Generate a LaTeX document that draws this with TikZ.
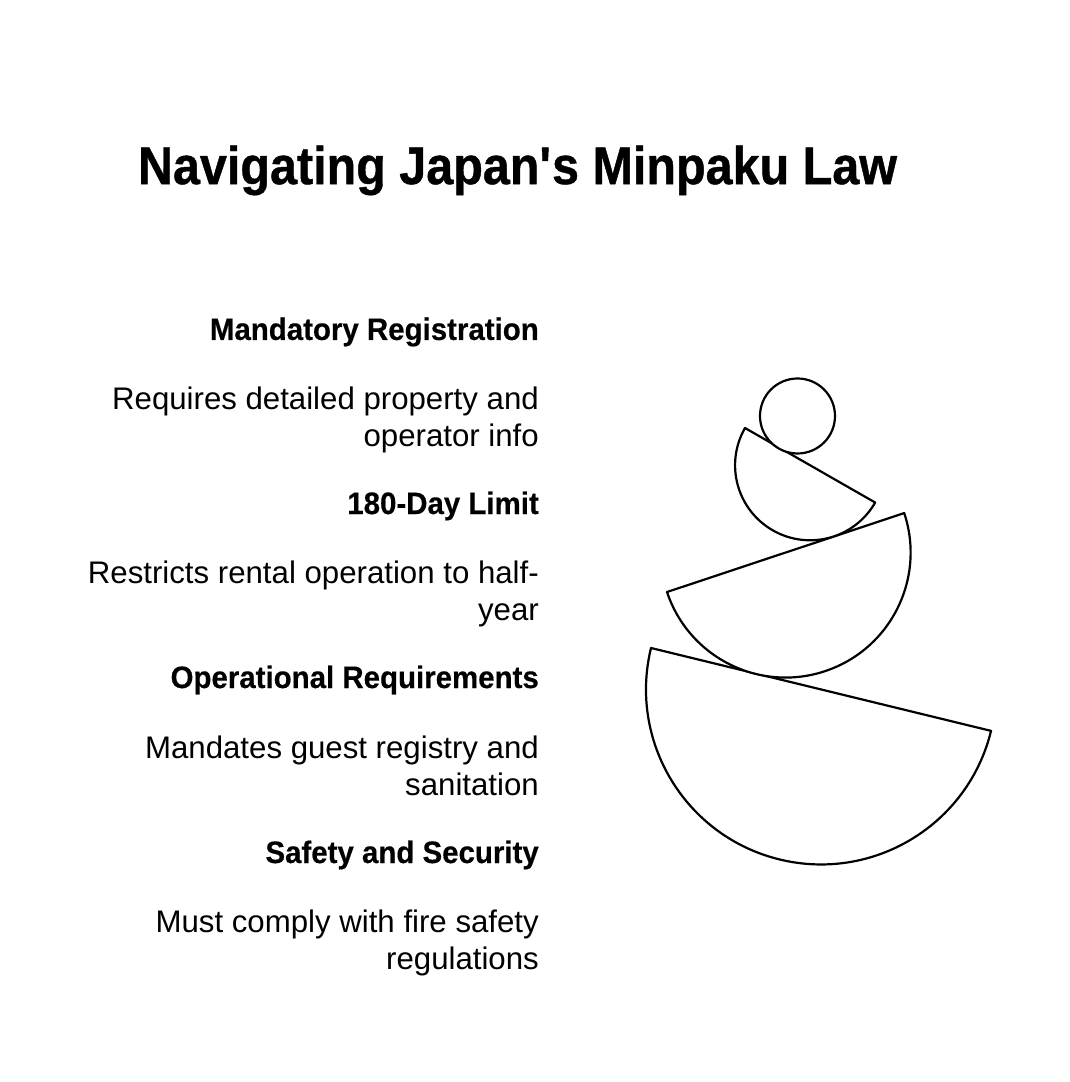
\documentclass[tikz,border=0pt]{standalone}
\usepackage{fontspec}
\setmainfont{Liberation Sans}
\newfontfamily\headfont[FakeStretch=0.95,FakeBold=0.4]{Liberation Sans Bold}
\newfontfamily\titlefont[FakeStretch=0.915,FakeBold=0.8]{Liberation Sans Bold}
\tikzset{
  x=1pt,y=1pt,
  shape outline/.style={draw=black,line width=2.2pt,fill=white,line join=round},
  heading/.style={anchor=east,inner sep=0pt,align=right,font=\headfont\fontsize{31}{37.5}\selectfont},
  body/.style={anchor=east,inner sep=0pt,align=right,font=\fontsize{31.2}{37.5}\selectfont},
  titletext/.style={anchor=center,inner sep=0pt,font=\titlefont\fontsize{53}{60}\selectfont}
}
\begin{document}
\begin{tikzpicture}
\useasboundingbox (0,0) rectangle (1070,1082);
\fill[white] (0,0) rectangle (1070,1082);
\node[titletext] (title) at (517.5,911.5) {Navigating Japan\textquotesingle s Minpaku Law};
\node[heading] (h1) at (539,750) {Mandatory Registration};
\node[body] (b1) at (539,662) {Requires detailed property and\\operator info};
\node[heading] (h2) at (539,576) {180-Day Limit};
\node[body] (b2) at (539,488) {Restricts rental operation to half-\\year};
\node[heading] (h3) at (539,402) {Operational Requirements};
\node[body] (b3) at (539,316) {Mandates guest registry and\\sanitation};
\node[heading] (h4) at (539,227) {Safety and Security};
\node[body] (b4) at (539,139) {Must comply with fire safety\\regulations};
\draw[shape outline] (651,434) arc[start angle=166.3,end angle=346.3,radius=175] -- cycle;
\draw[shape outline] (667,490) arc[start angle=198.4,end angle=378.4,radius=125] -- cycle;
\draw[shape outline] (745,654) arc[start angle=150.2,end angle=330.2,radius=75] -- cycle;
\draw[shape outline] (797.5,666) circle[radius=37.5];
\end{tikzpicture}
\end{document}
